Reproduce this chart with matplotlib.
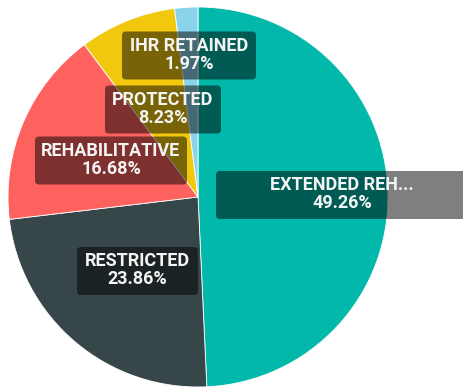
import matplotlib
matplotlib.use("Agg")
import matplotlib.pyplot as plt
from matplotlib.patches import FancyBboxPatch

# Share of cases by category
categories = ["EXTENDED REHABILITATIVE", "RESTRICTED", "REHABILITATIVE", "PROTECTED", "IHR RETAINED"]
shares = [49.26, 23.86, 16.68, 8.23, 1.97]
colors = ["#01B8AA", "#374649", "#FD625E", "#F2C80F", "#8AD4EB"]
label_texts = ["EXTENDED REH...", "RESTRICTED", "REHABILITATIVE", "PROTECTED", "IHR RETAINED"]

W, H = 464, 389
fig = plt.figure(figsize=(W / 100, H / 100), dpi=100)
ax = fig.add_axes([0, 0, 1, 1])

cx, cy, r = 198, H - 197, 190
ax.pie(shares, colors=colors, startangle=90, counterclock=False,
       center=(cx, cy), radius=r, frame=True,
       wedgeprops=dict(edgecolor="white", linewidth=0.6))
ax.set_xlim(0, W)
ax.set_ylim(0, H)
ax.set_aspect("equal")
ax.axis("off")

# label boxes: (centre x, centre y from top, box width) in pixels
layout = {
    "EXTENDED REHABILITATIVE": (342, 195, 252),
    "RESTRICTED": (137.5, 271, 121),
    "REHABILITATIVE": (111, 160.5, 152),
    "PROTECTED": (163, 109.5, 116),
    "IHR RETAINED": (189, 55.5, 134),
}
box_h = 48
font = dict(family=["Roboto", "DejaVu Sans"], fontweight="bold", fontsize=13, color="#f4f4f4")

for cat, txt, val in zip(categories, label_texts, shares):
    x, yt, bw = layout[cat]
    y = H - yt
    box = FancyBboxPatch((x - bw / 2 + 4, y - box_h / 2 + 4), bw - 8, box_h - 8,
                         boxstyle="round,pad=4,rounding_size=4",
                         facecolor="black", alpha=0.5, edgecolor="none", zorder=5)
    ax.add_patch(box)
    ax.text(x, y + 5, txt, ha="center", va="baseline", zorder=6, **font)
    ax.text(x, y - 13, f"{val:.2f}%", ha="center", va="baseline", zorder=6, **font)

fig.savefig("out.png", dpi=100)
